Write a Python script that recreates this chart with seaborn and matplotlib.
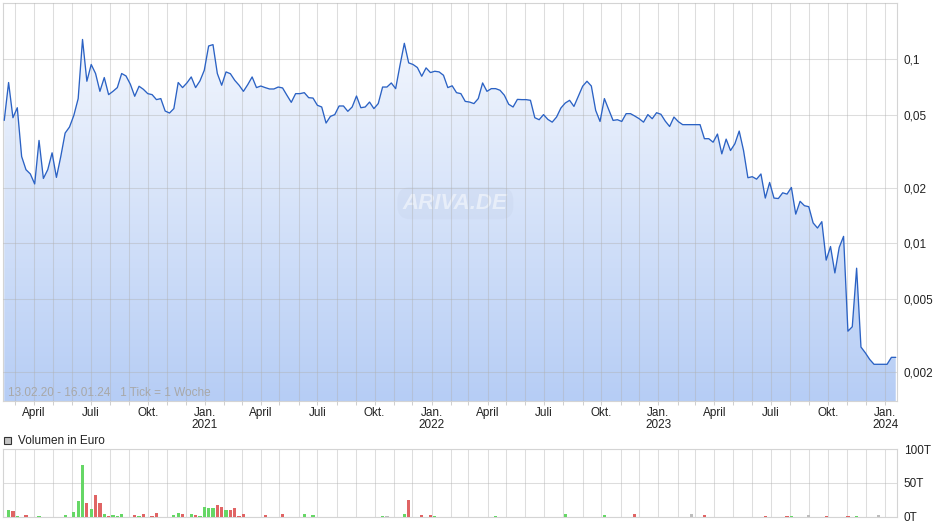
import numpy as np
import pandas as pd
import seaborn as sns
import matplotlib.pyplot as plt
import matplotlib.dates as mdates
from matplotlib.colors import LinearSegmentedColormap
from matplotlib.patches import Rectangle
from matplotlib.ticker import NullLocator, FixedLocator

sns.set_theme(style="white")
plt.rcParams['font.family'] = ['Liberation Sans', 'DejaVu Sans']

# weekly close, 13.02.20 - 16.01.24
start = "2020-02-13"
price = [
    0.0465, 0.0747, 0.0481, 0.0545, 0.0296, 0.0251, 0.0238, 0.0210, 0.0362, 0.0225,
    0.0251, 0.0310, 0.0228, 0.0296, 0.0397, 0.0428, 0.0495, 0.0611, 0.128, 0.0759,
    0.0936, 0.0836, 0.0669, 0.0795, 0.0642, 0.0669, 0.0701, 0.0836, 0.0811, 0.0731,
    0.0629, 0.0713, 0.0686, 0.0650, 0.0642, 0.0603, 0.0611, 0.0523, 0.0510, 0.0539,
    0.0747, 0.0701, 0.0743, 0.0801, 0.0701, 0.0762, 0.0871, 0.118, 0.120, 0.0836,
    0.0722, 0.0853, 0.0834, 0.0768, 0.0722, 0.0669, 0.0728, 0.0801, 0.0701, 0.0715,
    0.0701, 0.0689, 0.0689, 0.0706, 0.0698, 0.0637, 0.0583, 0.0650, 0.0650, 0.0658,
    0.0618, 0.0615, 0.0562, 0.0550, 0.0450, 0.0489, 0.0500, 0.0557, 0.0557, 0.0521,
    0.0550, 0.0631, 0.0545, 0.0550, 0.0585, 0.0539, 0.0574, 0.0706, 0.0706, 0.0743,
    0.0692, 0.0927, 0.122, 0.0955, 0.0936, 0.0901, 0.0808, 0.0897, 0.0846, 0.0860,
    0.0853, 0.0818, 0.0701, 0.0717, 0.0658, 0.0650, 0.0590, 0.0585, 0.0574, 0.0611,
    0.0743, 0.0669, 0.0692, 0.0692, 0.0678, 0.0637, 0.0569, 0.0550, 0.0605, 0.0603,
    0.0603, 0.0598, 0.0481, 0.0469, 0.0500, 0.0471, 0.0455, 0.0485, 0.0543, 0.0578,
    0.0598, 0.0554, 0.0629, 0.0713, 0.0759, 0.0715, 0.0527, 0.0459, 0.0611, 0.0532,
    0.0465, 0.0469, 0.0459, 0.0506, 0.0506, 0.0491, 0.0475, 0.0455, 0.0500, 0.0475,
    0.0512, 0.0502, 0.0461, 0.0431, 0.0485, 0.0458, 0.0441, 0.0441, 0.0441, 0.0441,
    0.0441, 0.0370, 0.0370, 0.0354, 0.0392, 0.0306, 0.0368, 0.0319, 0.0347, 0.0407,
    0.0319, 0.0227, 0.0230, 0.0223, 0.0238, 0.0176, 0.0214, 0.0176, 0.0175, 0.0188,
    0.0185, 0.0201, 0.0144, 0.0169, 0.0160, 0.0158, 0.0129, 0.0121, 0.0131, 0.0081,
    0.0096, 0.0069, 0.0095, 0.0109, 0.00333, 0.00352, 0.00732, 0.00273, 0.00254, 0.00234,
    0.0022, 0.0022, 0.0022, 0.0022, 0.0024, 0.0024,
]

# volume (thousand euro), by week index
vol_week = [1, 2, 3, 5, 8,
            14, 16, 17, 18, 19,
            20, 21, 22, 23, 24,
            25, 26, 27, 30, 31,
            32, 34, 35, 39, 40,
            41, 43, 44, 45, 46,
            47, 48, 49, 50, 51,
            52, 53, 54, 55, 60,
            64, 69, 71, 87, 88,
            92, 93, 96, 98, 99,
            113, 129, 138, 145, 158,
            161, 175, 180, 181, 185,
            189, 194, 196, 201]
vol_teur = [9.7, 8.4, 1, 2.5, 1,
            2.5, 6.9, 23, 76, 20,
            11.3, 32, 20, 3.9, 1,
            2.5, 1, 3.9, 2.5, 1,
            3.9, 1, 5.4, 2.5, 5.4,
            3.9, 3.9, 2.5, 1, 14.3,
            12.8, 12.8, 17.2, 14.3, 9.9,
            9.9, 12.8, 1, 3.9, 2.5,
            3.9, 3.9, 2.5, 1, 1,
            3.9, 24.6, 2.5, 2.5, 1,
            1, 3.9, 2.5, 3.9, 3.9,
            2.5, 1, 1, 1, 2.5,
            1, 1, 1, 2.5]
vol_dir = ['up', 'down', 'up', 'down', 'up',
           'up', 'up', 'up', 'up', 'down',
           'up', 'down', 'down', 'up', 'down',
           'up', 'up', 'up', 'down', 'up',
           'down', 'down', 'down', 'up', 'up',
           'down', 'up', 'down', 'up', 'up',
           'up', 'up', 'down', 'down', 'up',
           'down', 'down', 'down', 'down', 'down',
           'down', 'up', 'up', 'up', 'flat',
           'up', 'down', 'down', 'down', 'up',
           'up', 'up', 'up', 'down', 'flat',
           'down', 'down', 'down', 'up', 'flat',
           'down', 'down', 'up', 'flat']

quarter_names = {1: "Jan.", 4: "April", 7: "Juli", 10: "Okt."}
y_ticks = [0.002, 0.005, 0.01, 0.02, 0.05, 0.1]
y_labels = ["0,002", "0,005", "0,01", "0,02", "0,05", "0,1"]
vol_ticks = [0, 50, 100]
vol_labels = ["0T", "50T", "100T"]

dates = pd.date_range(start, periods=len(price), freq="7D")
df = pd.DataFrame({"date": dates, "price": price})

W, H = 940, 526
fig = plt.figure(figsize=(W / 100, H / 100), dpi=100)
ax = fig.add_axes([3 / W, 1 - 401 / H, 894 / W, 398 / H])
axv = fig.add_axes([3 / W, 1 - 516.7 / H, 894 / W, 67.7 / H])

xlo, xhi = pd.Timestamp("2020-02-11"), pd.Timestamp("2024-01-20")
ylo, yhi = 0.00139, 0.202
grid_c = '#b0b0b0'

# gradient area under the line
cmap = LinearSegmentedColormap.from_list("fill", ["#f8fafe", "#b6cdf5"])
grad = np.linspace(0, 1, 256).reshape(-1, 1)
im = ax.imshow(grad, cmap=cmap, aspect='auto', extent=[0, 1, 0, 1],
               transform=ax.transAxes, zorder=1, interpolation='bilinear')
poly = ax.fill_between(df["date"], df["price"], 1e-5, color='none', lw=0)
im.set_clip_path(poly.get_paths()[0], transform=ax.transData)

sns.lineplot(data=df, x="date", y="price", ax=ax, color="#2b62c4", linewidth=0.95, zorder=4)

ax.set_yscale("log")
ax.set_xlim(xlo, xhi)
ax.set_ylim(ylo, yhi)
ax.set_xlabel("")
ax.set_ylabel("")

# x axis: monthly grid, quarterly labels
qticks = [d for d in pd.date_range("2020-04-01", "2024-01-01", freq="MS") if d.month in quarter_names]
qlabels = [quarter_names[d.month] + ("\n%d" % d.year if d.month == 1 else "") for d in qticks]
for a in (ax, axv):
    a.set_xlim(xlo, xhi)
    a.xaxis.set_major_locator(FixedLocator(mdates.date2num(qticks)))
    a.xaxis.set_minor_locator(mdates.MonthLocator())
    a.grid(True, which='both', axis='x', color=grid_c, alpha=0.42, lw=0.75)
    a.tick_params(axis='x', which='both', bottom=True, length=3, color='#d0d0d0', width=0.75)
    for s in a.spines.values():
        s.set_color('#d4d4d4')
        s.set_linewidth(0.8)

ax.set_xticklabels(qlabels)
ax.tick_params(axis='x', labelsize=8.5, labelcolor='#222222', pad=1)
for t in ax.get_xticklabels():
    t.set_linespacing(1.05)

ax.yaxis.tick_right()
ax.set_yticks(y_ticks, y_labels)
ax.yaxis.set_minor_locator(NullLocator())
ax.tick_params(axis='y', length=0, pad=5, labelsize=8.5, labelcolor='#222222')
ax.grid(True, which='major', axis='y', color=grid_c, alpha=0.42, lw=0.75)
ax.set_axisbelow(False)

ax.text(0.006, 0.006, "13.02.20 - 16.01.24   1 Tick = 1 Woche", transform=ax.transAxes,
        fontsize=8.5, color='#a8a8a8', ha='left', va='bottom', zorder=6)

# watermark
ax.text(0.506, 0.497, "ARIVA.DE", transform=ax.transAxes, fontsize=16, fontweight='bold',
        fontstyle='italic', color='white', alpha=0.5, ha='center', va='center', zorder=2,
        bbox=dict(boxstyle='round,pad=0.25,rounding_size=0.6', fc='#c5d2ea', ec='none', alpha=0.3))

# volume
vol_colors = {'up': '#66d766', 'down': '#e06464', 'flat': '#bdbdbd'}
vdates = dates[vol_week]
axv.bar(vdates, vol_teur, width=5.2, color=[vol_colors[d] for d in vol_dir], zorder=3, lw=0)
axv.set_ylim(0, 100)
axv.set_xticklabels([])
axv.yaxis.tick_right()
axv.set_yticks(vol_ticks, vol_labels)
axv.tick_params(axis='y', length=0, pad=5, labelsize=8.5, labelcolor='#222222')
axv.tick_params(axis='x', which='both', length=0)
axv.grid(True, which='major', axis='y', color=grid_c, alpha=0.42, lw=0.75)
axv.set_axisbelow(True)

# volume legend
fig.patches.append(Rectangle((4 / W, 1 - 444 / H), 7 / W, 7 / H, transform=fig.transFigure,
                             fc='#c4c4c4', ec='#333333', lw=0.8))
fig.text(18 / W, 1 - 440.5 / H, "Volumen in Euro", fontsize=8.5, color='#222222', va='center')

fig.savefig("out.png", dpi=100)
